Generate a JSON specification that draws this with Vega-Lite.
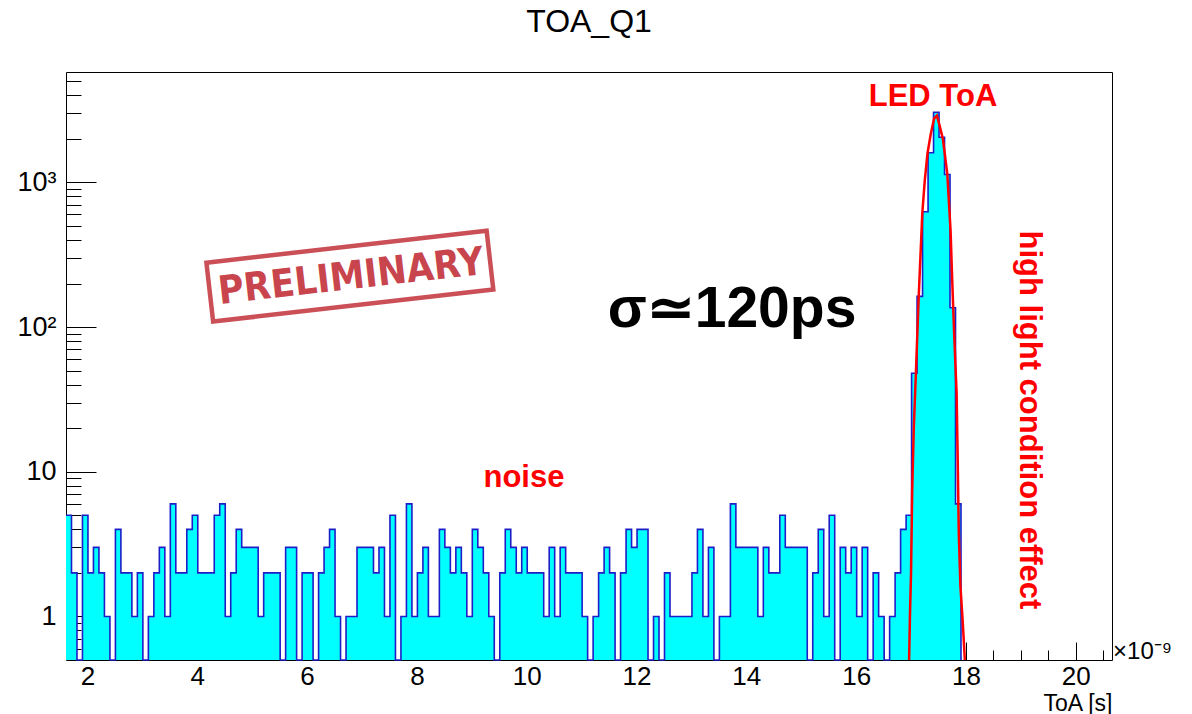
{
  "$schema": "https://vega.github.io/schema/vega-lite/v6.json",
  "width": 1046,
  "height": 588,
  "autosize": "none",
  "padding": {"left": 66, "top": 72, "right": 80, "bottom": 54},
  "background": "white",
  "config": {
    "view": {"stroke": "black", "strokeWidth": 1},
    "font": "Liberation Sans",
    "axis": {"labelColor": "black", "tickColor": "black", "grid": false, "domain": false, "labelFont": "Liberation Sans", "titleFont": "Liberation Sans"}
  },
  "title": {"text": "TOA_Q1", "fontSize": 32, "font": "Liberation Sans", "fontWeight": "normal", "color": "black", "offset": 33},
  "resolve": {"axis": {"x": "independent", "y": "independent"}},
  "datasets": {
    "hist": [
      {"t": 1.61, "n": 5}, {"t": 1.71, "n": 2}, {"t": 1.81, "n": 0}, {"t": 1.91, "n": 5}, {"t": 2.01, "n": 2},
      {"t": 2.11, "n": 3}, {"t": 2.21, "n": 2}, {"t": 2.31, "n": 1}, {"t": 2.41, "n": 0}, {"t": 2.51, "n": 4},
      {"t": 2.61, "n": 2}, {"t": 2.71, "n": 2}, {"t": 2.81, "n": 1}, {"t": 2.91, "n": 2}, {"t": 3.01, "n": 0},
      {"t": 3.11, "n": 1}, {"t": 3.21, "n": 2}, {"t": 3.31, "n": 3}, {"t": 3.41, "n": 1}, {"t": 3.51, "n": 6},
      {"t": 3.61, "n": 2}, {"t": 3.71, "n": 2}, {"t": 3.81, "n": 4}, {"t": 3.91, "n": 5}, {"t": 4.01, "n": 2},
      {"t": 4.11, "n": 2}, {"t": 4.21, "n": 2}, {"t": 4.31, "n": 5}, {"t": 4.41, "n": 6}, {"t": 4.51, "n": 1},
      {"t": 4.61, "n": 2}, {"t": 4.71, "n": 4}, {"t": 4.81, "n": 3}, {"t": 4.91, "n": 3}, {"t": 5.01, "n": 3},
      {"t": 5.11, "n": 1}, {"t": 5.21, "n": 2}, {"t": 5.31, "n": 2}, {"t": 5.41, "n": 2}, {"t": 5.51, "n": 0},
      {"t": 5.61, "n": 3}, {"t": 5.71, "n": 3}, {"t": 5.81, "n": 0}, {"t": 5.91, "n": 2}, {"t": 6.01, "n": 2},
      {"t": 6.11, "n": 0}, {"t": 6.21, "n": 2}, {"t": 6.31, "n": 3}, {"t": 6.41, "n": 4}, {"t": 6.51, "n": 1},
      {"t": 6.61, "n": 0}, {"t": 6.71, "n": 1}, {"t": 6.81, "n": 1}, {"t": 6.91, "n": 3}, {"t": 7.01, "n": 3},
      {"t": 7.11, "n": 3}, {"t": 7.21, "n": 2}, {"t": 7.31, "n": 3}, {"t": 7.41, "n": 1}, {"t": 7.51, "n": 5},
      {"t": 7.61, "n": 0}, {"t": 7.71, "n": 1}, {"t": 7.81, "n": 6}, {"t": 7.91, "n": 1}, {"t": 8.01, "n": 2},
      {"t": 8.11, "n": 3}, {"t": 8.21, "n": 1}, {"t": 8.31, "n": 1}, {"t": 8.41, "n": 4}, {"t": 8.51, "n": 3},
      {"t": 8.61, "n": 2}, {"t": 8.71, "n": 3}, {"t": 8.81, "n": 2}, {"t": 8.91, "n": 1}, {"t": 9.01, "n": 4},
      {"t": 9.11, "n": 3}, {"t": 9.21, "n": 2}, {"t": 9.31, "n": 1}, {"t": 9.41, "n": 0}, {"t": 9.51, "n": 2},
      {"t": 9.61, "n": 4}, {"t": 9.71, "n": 3}, {"t": 9.81, "n": 2}, {"t": 9.91, "n": 3}, {"t": 10.01, "n": 2},
      {"t": 10.11, "n": 2}, {"t": 10.21, "n": 2}, {"t": 10.31, "n": 1}, {"t": 10.41, "n": 3}, {"t": 10.51, "n": 1},
      {"t": 10.61, "n": 3}, {"t": 10.71, "n": 2}, {"t": 10.81, "n": 2}, {"t": 10.91, "n": 2}, {"t": 11.01, "n": 1},
      {"t": 11.11, "n": 0}, {"t": 11.21, "n": 1}, {"t": 11.31, "n": 2}, {"t": 11.41, "n": 3}, {"t": 11.51, "n": 2},
      {"t": 11.61, "n": 0}, {"t": 11.71, "n": 2}, {"t": 11.81, "n": 4}, {"t": 11.91, "n": 3}, {"t": 12.01, "n": 4},
      {"t": 12.11, "n": 4}, {"t": 12.21, "n": 0}, {"t": 12.31, "n": 1}, {"t": 12.41, "n": 0}, {"t": 12.51, "n": 2},
      {"t": 12.61, "n": 1}, {"t": 12.71, "n": 1}, {"t": 12.81, "n": 1}, {"t": 12.91, "n": 1}, {"t": 13.01, "n": 2},
      {"t": 13.11, "n": 4}, {"t": 13.21, "n": 1}, {"t": 13.31, "n": 3}, {"t": 13.41, "n": 0}, {"t": 13.51, "n": 1},
      {"t": 13.61, "n": 1}, {"t": 13.71, "n": 6}, {"t": 13.81, "n": 3}, {"t": 13.91, "n": 3}, {"t": 14.01, "n": 3},
      {"t": 14.11, "n": 3}, {"t": 14.21, "n": 1}, {"t": 14.31, "n": 3}, {"t": 14.41, "n": 2}, {"t": 14.51, "n": 2},
      {"t": 14.61, "n": 5}, {"t": 14.71, "n": 3}, {"t": 14.81, "n": 3}, {"t": 14.91, "n": 3}, {"t": 15.01, "n": 3},
      {"t": 15.11, "n": 0}, {"t": 15.21, "n": 2}, {"t": 15.31, "n": 4}, {"t": 15.41, "n": 1}, {"t": 15.51, "n": 5},
      {"t": 15.61, "n": 0}, {"t": 15.71, "n": 3}, {"t": 15.81, "n": 2}, {"t": 15.91, "n": 3}, {"t": 16.01, "n": 1},
      {"t": 16.11, "n": 3}, {"t": 16.21, "n": 0}, {"t": 16.31, "n": 2}, {"t": 16.41, "n": 1}, {"t": 16.51, "n": 0},
      {"t": 16.61, "n": 1}, {"t": 16.71, "n": 2}, {"t": 16.81, "n": 4}, {"t": 16.91, "n": 5}, {"t": 17.01, "n": 48},
      {"t": 17.11, "n": 163}, {"t": 17.21, "n": 626}, {"t": 17.31, "n": 1601}, {"t": 17.41, "n": 3055}, {"t": 17.51, "n": 2050},
      {"t": 17.61, "n": 1134}, {"t": 17.71, "n": 136}, {"t": 17.81, "n": 6}, {"t": 17.91, "n": 0}
    ],
    "fit": [
      {"t": 16.965, "f": 0.5}, {"t": 16.98, "f": 1.0}, {"t": 17.0, "f": 2.0}, {"t": 17.01, "f": 3.75},
      {"t": 17.02, "f": 7.1}, {"t": 17.05, "f": 20}, {"t": 17.09, "f": 50}, {"t": 17.14, "f": 163},
      {"t": 17.205, "f": 610}, {"t": 17.25, "f": 1030}, {"t": 17.3, "f": 1590}, {"t": 17.36, "f": 2170},
      {"t": 17.42, "f": 2760}, {"t": 17.47, "f": 2900}, {"t": 17.51, "f": 2560}, {"t": 17.58, "f": 2000},
      {"t": 17.66, "f": 1150}, {"t": 17.72, "f": 465}, {"t": 17.75, "f": 210}, {"t": 17.79, "f": 81},
      {"t": 17.83, "f": 35}, {"t": 17.85, "f": 12}, {"t": 17.87, "f": 3.75}, {"t": 17.9, "f": 1.6},
      {"t": 17.94, "f": 0.94}, {"t": 17.98, "f": 0.5}
    ]
  },
  "layer": [
    {
      "data": {"name": "hist"},
      "mark": {"type": "area", "interpolate": "step-after", "color": "#00ffff", "opacity": 1},
      "encoding": {
        "x": {"field": "t", "type": "quantitative",
              "scale": {"domain": [1.61, 20.66], "nice": false, "zero": false},
              "axis": {"orient": "bottom", "values": [2, 4, 6, 8, 10, 12, 14, 16, 18, 20], "ticks": false,
                       "labelFontSize": 26, "labelPadding": 3, "title": "ToA [s]", "titleFontSize": 23,
                       "titleFontWeight": "normal", "titleColor": "black", "titleAnchor": "end", "titleAlign": "right",
                       "titleBaseline": "alphabetic", "titleY": 50}},
        "y": {"field": "n", "type": "quantitative", "stack": null,
              "scale": {"type": "log", "domain": [0.5, 5794], "nice": false, "clamp": true},
              "axis": {"orient": "left", "values": [1, 10, 100, 1000], "ticks": false, "labelFontSize": 27, "labelPadding": 10,
                       "labelExpr": "datum.value == 1 ? '1' : datum.value == 10 ? '10' : datum.value == 100 ? '10²' : '10³'",
                       "title": null}},
        "y2": {"datum": 0.5}
      }
    },
    {
      "data": {"name": "hist"},
      "mark": {"type": "line", "interpolate": "step-after", "color": "#1e1ec8", "strokeWidth": 1.6},
      "encoding": {
        "x": {"field": "t", "type": "quantitative",
              "scale": {"domain": [1.61, 20.66], "nice": false, "zero": false},
              "axis": {"orient": "bottom", "values": [2, 4, 6, 8, 10, 12, 14, 16, 18, 20], "labels": false, "tickSize": -18, "title": null}},
        "y": {"field": "n", "type": "quantitative",
              "scale": {"type": "log", "domain": [0.5, 5794], "nice": false, "clamp": true},
              "axis": {"orient": "left", "values": [1, 10, 100, 1000], "labels": false, "tickSize": -30, "title": null}}
      }
    },
    {
      "data": {"name": "fit"},
      "mark": {"type": "line", "color": "#ff0000", "strokeWidth": 2.5, "clip": true},
      "encoding": {
        "x": {"field": "t", "type": "quantitative",
              "scale": {"domain": [1.61, 20.66], "nice": false, "zero": false},
              "axis": {"orient": "bottom", "values": [2.5, 3, 3.5, 4.5, 5, 5.5, 6.5, 7, 7.5, 8.5, 9, 9.5, 10.5, 11, 11.5, 12.5, 13, 13.5, 14.5, 15, 15.5, 16.5, 17, 17.5, 18.5, 19, 19.5, 20.5], "labels": false, "tickSize": -10, "title": null}},
        "y": {"field": "f", "type": "quantitative",
              "scale": {"type": "log", "domain": [0.5, 5794], "nice": false, "clamp": true},
              "axis": {"orient": "left", "values": [0.6, 0.7, 0.8, 0.9, 2, 3, 4, 5, 6, 7, 8, 9, 20, 30, 40, 50, 60, 70, 80, 90, 200, 300, 400, 500, 600, 700, 800, 900, 2000, 3000, 4000, 5000], "labels": false, "tickSize": -15, "title": null}}
      }
    },
    {
      "data": {"values": [{"x": 6.78, "y": 225}]},
      "mark": {"type": "point", "shape": "M-1,-0.21L1,-0.21L1,0.21L-1,0.21Z", "size": 79524, "angle": -6.5, "filled": false, "stroke": "#c3313a", "strokeWidth": 4.5, "opacity": 0.85},
      "encoding": {
        "x": {"field": "x", "type": "quantitative", "axis": null},
        "y": {"field": "y", "type": "quantitative", "axis": null}
      }
    },
    {
      "data": {"values": [{"x": 6.8, "y": 222, "label": "PRELIMINARY"}]},
      "mark": {"type": "text", "font": "DejaVu Sans Condensed", "fontWeight": "bold", "fontSize": 39, "angle": -6.5, "color": "#c3313a", "opacity": 0.9, "align": "center", "baseline": "middle"},
      "encoding": {
        "x": {"field": "x", "type": "quantitative", "axis": null},
        "y": {"field": "y", "type": "quantitative", "axis": null},
        "text": {"field": "label"}
      }
    },
    {
      "data": {"values": [
        {"x": 17.40, "y": 3884, "label": "LED ToA", "a": 0},
        {"x": 9.95, "y": 9.04, "label": "noise", "a": 0},
        {"x": 19.15, "y": 22.8, "label": "high light condition effect", "a": 90}
      ]},
      "mark": {"type": "text", "fontWeight": "bold", "fontSize": 31, "color": "#ff0000", "align": "center", "baseline": "middle"},
      "encoding": {
        "x": {"field": "x", "type": "quantitative", "axis": null},
        "y": {"field": "y", "type": "quantitative", "axis": null},
        "angle": {"field": "a", "type": "quantitative", "scale": null},
        "text": {"field": "label"}
      }
    },
    {
      "data": {"values": [{"x": 13.74, "y": 131, "label": "σ≃120ps"}]},
      "mark": {"type": "text", "fontWeight": "bold", "fontSize": 57, "color": "black", "align": "center", "baseline": "middle"},
      "encoding": {
        "x": {"field": "x", "type": "quantitative", "axis": null},
        "y": {"field": "y", "type": "quantitative", "axis": null},
        "text": {"field": "label"}
      }
    },
    {
      "data": {"values": [{"x": 20.68, "y": 0.568, "label": "×10⁻⁹"}]},
      "mark": {"type": "text", "fontSize": 24, "color": "black", "align": "left", "baseline": "middle"},
      "encoding": {
        "x": {"field": "x", "type": "quantitative", "axis": null},
        "y": {"field": "y", "type": "quantitative", "axis": null},
        "text": {"field": "label"}
      }
    }
  ]
}
